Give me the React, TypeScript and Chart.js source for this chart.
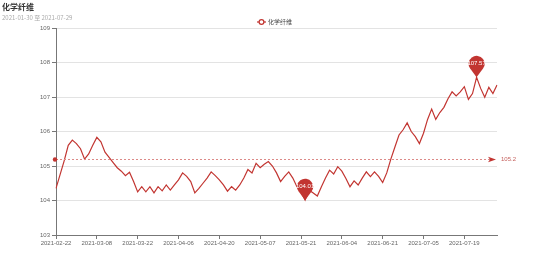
import React, { useEffect, useRef } from 'react';
import { Chart, registerables } from 'chart.js';

Chart.register(...registerables);

const TITLE = '化学纤维';
const SUBTITLE = '2021-01-30 至 2021-07-29';
const SERIES_NAME = '化学纤维';

const DATES = [
  '2021-02-22', '2021-02-23', '2021-02-24', '2021-02-25', '2021-02-26',
  '2021-03-01', '2021-03-02', '2021-03-03', '2021-03-04', '2021-03-05',
  '2021-03-08', '2021-03-09', '2021-03-10', '2021-03-11', '2021-03-12',
  '2021-03-15', '2021-03-16', '2021-03-17', '2021-03-18', '2021-03-19',
  '2021-03-22', '2021-03-23', '2021-03-24', '2021-03-25', '2021-03-26',
  '2021-03-29', '2021-03-30', '2021-03-31', '2021-04-01', '2021-04-02',
  '2021-04-06', '2021-04-07', '2021-04-08', '2021-04-09',
  '2021-04-12', '2021-04-13', '2021-04-14', '2021-04-15', '2021-04-16',
  '2021-04-19', '2021-04-20', '2021-04-21', '2021-04-22', '2021-04-23',
  '2021-04-26', '2021-04-27', '2021-04-28', '2021-04-29', '2021-04-30',
  '2021-05-06', '2021-05-07',
  '2021-05-10', '2021-05-11', '2021-05-12', '2021-05-13', '2021-05-14',
  '2021-05-17', '2021-05-18', '2021-05-19', '2021-05-20', '2021-05-21',
  '2021-05-24', '2021-05-25', '2021-05-26', '2021-05-27', '2021-05-28',
  '2021-05-31', '2021-06-01', '2021-06-02', '2021-06-03', '2021-06-04',
  '2021-06-07', '2021-06-08', '2021-06-09', '2021-06-10', '2021-06-11',
  '2021-06-15', '2021-06-16', '2021-06-17', '2021-06-18',
  '2021-06-21', '2021-06-22', '2021-06-23', '2021-06-24', '2021-06-25',
  '2021-06-28', '2021-06-29', '2021-06-30', '2021-07-01', '2021-07-02',
  '2021-07-05', '2021-07-06', '2021-07-07', '2021-07-08', '2021-07-09',
  '2021-07-12', '2021-07-13', '2021-07-14', '2021-07-15', '2021-07-16',
  '2021-07-19', '2021-07-20', '2021-07-21', '2021-07-22', '2021-07-23',
  '2021-07-26', '2021-07-27', '2021-07-28', '2021-07-29',
];

const VALUES = [
  104.35, 104.75, 105.15, 105.6, 105.75, 105.65, 105.5, 105.2, 105.35, 105.6,
  105.83, 105.7, 105.4, 105.25, 105.1, 104.95, 104.85, 104.72, 104.82, 104.55,
  104.25, 104.4, 104.25, 104.4, 104.22, 104.4, 104.28, 104.45, 104.3, 104.45,
  104.6, 104.8, 104.7, 104.55, 104.22, 104.35, 104.5, 104.65, 104.83, 104.72,
  104.6, 104.45, 104.27, 104.4, 104.3, 104.45, 104.65, 104.9, 104.8, 105.08,
  104.95, 105.05, 105.13, 105.0, 104.8, 104.55, 104.7, 104.83, 104.65, 104.4,
  104.25, 104.01, 104.3, 104.22, 104.13, 104.4, 104.65, 104.88, 104.77, 104.98,
  104.85, 104.64, 104.4, 104.57, 104.45, 104.65, 104.83, 104.69, 104.83, 104.7,
  104.52, 104.8, 105.2, 105.55, 105.9, 106.05, 106.25, 106.0, 105.85, 105.65,
  105.95, 106.35, 106.65, 106.35, 106.55, 106.7, 106.95, 107.15, 107.03, 107.15,
  107.3, 106.93, 107.1, 107.57, 107.25, 106.99, 107.28, 107.1, 107.35,
];

const AVERAGE = 105.2;
const Y_MIN = 103;
const Y_MAX = 109;
const Y_STEP = 1;
const LABEL_EVERY = 10;

const RED = '#c23531';
const FONT = '"Liberation Sans", Arial, sans-serif';
const CJK = '"Noto Sans CJK SC", sans-serif';

function drawPin(ctx: CanvasRenderingContext2D, px: number, py: number, text: string) {
  const r = 8;
  const d = 13.5;
  const cy = py - d;
  const theta = Math.acos(r / d);
  ctx.beginPath();
  ctx.moveTo(px, py);
  ctx.arc(px, cy, r, Math.PI / 2 + theta, Math.PI / 2 - theta + Math.PI * 2, false);
  ctx.closePath();
  ctx.fillStyle = RED;
  ctx.fill();
  ctx.fillStyle = '#fff';
  ctx.font = `6px ${FONT}`;
  ctx.textAlign = 'center';
  ctx.textBaseline = 'middle';
  ctx.fillText(text, px, cy);
}

const overlay = {
  id: 'overlay',
  afterDatasetsDraw(chart: any) {
    const { ctx, chartArea: ca, scales } = chart;
    const xs = scales.x;
    const ys = scales.y;
    ctx.save();

    // average mark line
    const my = Math.round(ys.getPixelForValue(AVERAGE)) + 0.5;
    ctx.strokeStyle = '#dc8a88';
    ctx.lineWidth = 1;
    ctx.setLineDash([2, 2]);
    ctx.beginPath();
    ctx.moveTo(ca.left, my);
    ctx.lineTo(ca.right - 6, my);
    ctx.stroke();
    ctx.setLineDash([]);
    ctx.fillStyle = RED;
    ctx.beginPath();
    ctx.arc(ca.left - 1, my, 2.2, 0, Math.PI * 2);
    ctx.fill();
    const tip = ca.right - 1;
    ctx.beginPath();
    ctx.moveTo(tip, my);
    ctx.lineTo(tip - 8, my - 2.8);
    ctx.lineTo(tip - 6, my);
    ctx.lineTo(tip - 8, my + 2.8);
    ctx.closePath();
    ctx.fill();
    ctx.font = `6px ${FONT}`;
    ctx.fillStyle = '#c5605d';
    ctx.textAlign = 'left';
    ctx.textBaseline = 'middle';
    ctx.fillText(String(AVERAGE), ca.right + 4, my);

    // max / min pins
    let maxI = 0;
    let minI = 0;
    VALUES.forEach((v, i) => {
      if (v > VALUES[maxI]) maxI = i;
      if (v < VALUES[minI]) minI = i;
    });
    [maxI, minI].forEach((i) => {
      drawPin(ctx, xs.getPixelForValue(i), ys.getPixelForValue(VALUES[i]), VALUES[i].toFixed(2));
    });

    // title & subtitle
    ctx.textAlign = 'left';
    ctx.textBaseline = 'middle';
    ctx.fillStyle = '#333';
    ctx.font = `bold 8px ${CJK}`;
    ctx.fillText(TITLE, 2, 7);
    ctx.fillStyle = '#aaa';
    ctx.font = `6px ${CJK}`;
    ctx.fillText(SUBTITLE, 2, 17.5);

    // legend
    const ly = 22;
    ctx.strokeStyle = RED;
    ctx.lineWidth = 1.2;
    ctx.beginPath();
    ctx.moveTo(257, ly);
    ctx.lineTo(266, ly);
    ctx.stroke();
    ctx.fillStyle = '#fff';
    ctx.beginPath();
    ctx.arc(261.5, ly, 2.4, 0, Math.PI * 2);
    ctx.fill();
    ctx.stroke();
    ctx.fillStyle = '#444';
    ctx.font = `6px ${CJK}`;
    ctx.fillText(SERIES_NAME, 268, ly);

    ctx.restore();
  },
};

export default function App() {
  const ref = useRef<HTMLCanvasElement | null>(null);

  useEffect(() => {
    if (!ref.current) return;
    const chart = new Chart(ref.current, {
      type: 'line',
      data: {
        labels: DATES,
        datasets: [
          {
            label: SERIES_NAME,
            data: VALUES,
            borderColor: RED,
            backgroundColor: RED,
            borderWidth: 1.2,
            pointRadius: 0,
            tension: 0,
            fill: false,
          },
        ],
      },
      options: {
        responsive: false,
        animation: false,
        layout: { padding: { left: 0, right: 57, top: 28, bottom: 0 } },
        plugins: {
          legend: { display: false },
          title: { display: false },
          tooltip: { enabled: false },
        },
        scales: {
          x: {
            type: 'category',
            offset: false,
            afterFit: (s: any) => { s.height = 30; },
            border: { display: true, color: '#777', width: 1 },
            grid: {
              drawOnChartArea: false,
              drawTicks: true,
              tickLength: 4,
              tickColor: (c: any) => (c.index % LABEL_EVERY === 0 ? '#777' : 'rgba(0,0,0,0)'),
            },
            ticks: {
              autoSkip: false,
              maxRotation: 0,
              minRotation: 0,
              padding: 1,
              color: '#666',
              font: { family: FONT, size: 6 },
              callback: (_v: any, i: number) => (i % LABEL_EVERY === 0 ? DATES[i] : ''),
            },
          },
          y: {
            min: Y_MIN,
            max: Y_MAX,
            afterFit: (s: any) => { s.width = 56; },
            border: { display: true, color: '#777', width: 1 },
            grid: {
              color: '#e3e3e3',
              drawTicks: true,
              tickLength: 4,
              tickColor: '#777',
            },
            ticks: {
              stepSize: Y_STEP,
              padding: 2,
              color: '#666',
              font: { family: FONT, size: 6 },
            },
          },
        },
      },
      plugins: [overlay],
    } as any);
    return () => chart.destroy();
  }, []);

  return (
    <div style={{ position: 'absolute', left: 0, top: 0, width: 554, height: 265 }}>
      <canvas ref={ref} width={554} height={265} style={{ width: 554, height: 265, display: 'block' }} />
    </div>
  );
}
